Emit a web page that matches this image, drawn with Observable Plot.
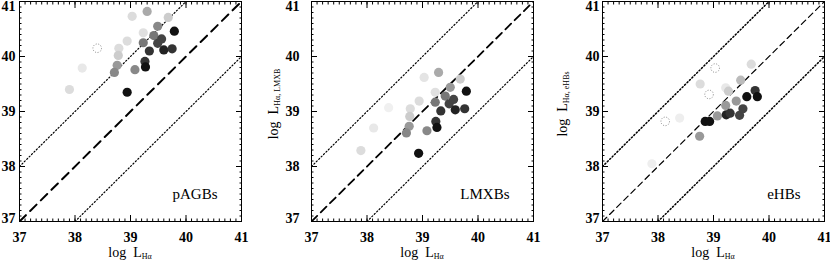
<!DOCTYPE html>
<html><head><meta charset="utf-8">
<script src="https://cdn.jsdelivr.net/npm/d3@7"></script>
<script src="https://cdn.jsdelivr.net/npm/@observablehq/plot@0.6"></script>
<style>
body{margin:0;background:#fff;}
#chart{position:relative;width:830px;height:263px;overflow:hidden;background:#fff;}
#chart svg{position:absolute;top:0;}
</style></head><body><div id="chart"></div>
<script>
// ---- data ----
const tickValues = [37, 38, 39, 40, 41];
const axisDomain = [37, 41];
const panelNames = ["pAGBs", "LMXBs", "eHBs"];
const yTitleSubs = [null, "Hα, LMXB", "Hα, eHBs"];
const lineOffsets = [-1, 0, 1];

const pagbX = [37.90, 38.13, 38.40, 38.79, 38.78, 38.76, 38.71, 38.94, 39.03, 39.30, 38.94, 39.08, 39.23, 39.23, 39.26, 39.27, 39.34, 39.42, 39.49, 39.49, 39.56, 39.60, 39.68, 39.75, 39.79];
const pagbY = [39.40, 39.79, 40.15, 40.15, 40.02, 39.84, 39.71, 40.28, 40.73, 40.82, 39.35, 39.76, 40.43, 40.25, 39.91, 39.81, 40.10, 40.38, 40.55, 40.24, 40.32, 40.12, 40.71, 40.14, 40.46];
const pagbGray = ["#dcdcdc", "#e8e8e8", "#fff", "#dcdcdc", "#cccccc", "#999999", "#888888", "#dcdcdc", "#dcdcdc", "#aaaaaa", "#111111", "#888888", "#e0e0e0", "#777777", "#333333", "#111111", "#333333", "#777777", "#888888", "#444444", "#444444", "#222222", "#cccccc", "#333333", "#111111"];

const lmxbX = [37.89, 38.12, 38.39, 38.78, 38.77, 38.76, 38.71, 38.94, 39.03, 39.29, 38.93, 39.08, 39.23, 39.23, 39.24, 39.26, 39.33, 39.41, 39.50, 39.48, 39.56, 39.59, 39.68, 39.76, 39.79];
const lmxbY = [38.29, 38.70, 39.07, 39.05, 38.91, 38.73, 38.61, 39.19, 39.62, 39.71, 38.24, 38.65, 39.35, 39.17, 38.82, 38.71, 39.01, 39.28, 39.44, 39.14, 39.22, 39.03, 39.59, 39.05, 39.37];
const lmxbGray = ["#dcdcdc", "#e8e8e8", "#f0f0f0", "#dcdcdc", "#cccccc", "#999999", "#888888", "#dcdcdc", "#e4e4e4", "#aaaaaa", "#111111", "#888888", "#e0e0e0", "#777777", "#333333", "#111111", "#333333", "#777777", "#999999", "#444444", "#444444", "#222222", "#cccccc", "#333333", "#111111"];

const ehbX = [37.89, 38.13, 38.39, 38.76, 38.75, 38.92, 39.03, 38.85, 38.93, 39.07, 39.22, 39.27, 39.22, 39.23, 39.30, 39.41, 39.49, 39.47, 39.53, 39.60, 39.68, 39.75, 39.79];
const ehbY = [38.05, 38.82, 38.88, 39.50, 38.55, 39.31, 39.79, 38.82, 38.82, 38.92, 39.43, 39.37, 39.11, 38.94, 38.97, 39.19, 39.57, 38.93, 39.05, 39.27, 39.86, 39.38, 39.27];
const ehbGray = ["#eeeeee", "#fff", "#eeeeee", "#dcdcdc", "#999999", "#fff", "#fff", "#111111", "#111111", "#999999", "#e8e8e8", "#cccccc", "#999999", "#222222", "#333333", "#999999", "#bbbbbb", "#444444", "#444444", "#111111", "#dcdcdc", "#333333", "#111111"];

const panels = [
  {x: pagbX, y: pagbY, g: pagbGray},
  {x: lmxbX, y: lmxbY, g: lmxbGray},
  {x: ehbX, y: ehbY, g: ehbGray}
];

// ---- layout / style ----
const frameLeft = [19, 311, 602];
const mL = 45, mR = 6, frameW = 222;
const yPad = [4, 12, 3];
const dashW = [2, 1.8, 1.2];
const dashA = ["9,6", "8,5", "6,4"];
const dotW = [1.2, 1.2, 1.5];
const yTitleX = [0, 12, 10];
const serif = "'Liberation Serif', 'DejaVu Serif', serif";
const minorTicks = d3.range(370, 411).map(v => v / 10);
const fmt = d => String(d);

const chart = document.getElementById("chart");

panels.forEach((p, k) => {
  const idx = d3.range(p.x.length);
  const solid = idx.filter(i => p.g[i] !== "#fff");
  const hollow = idx.filter(i => p.g[i] === "#fff");
  const lines = lineOffsets.map(o => axisDomain.map(v => ({x: v, y: v + o, o})));
  const tickStyle = {stroke: "black", strokeWidth: 1, tickFormat: () => "", label: null};
  const labelStyle = {tickSize: 0, tickFormat: fmt, label: null, fontSize: 14, fontFamily: serif, fontWeight: "bold", fill: "black"};
  const yMin = axisDomain[0], yMax = axisDomain[1];
  const plot = Plot.plot({
    width: mL + frameW + mR,
    height: 263,
    marginTop: 1, marginBottom: 42, marginLeft: mL, marginRight: mR,
    style: {background: "transparent", overflow: "visible"},
    x: {domain: axisDomain, label: null},
    y: {domain: axisDomain, label: null},
    color: {type: "identity"},
    marks: [
      ...lines.map(l => Plot.line(l, {
        x: "x", y: "y", clip: true, stroke: "black",
        strokeWidth: l[0].o === 0 ? dashW[k] : dotW[k],
        strokeDasharray: l[0].o === 0 ? dashA[k] : "1.2,2.2"
      })),
      Plot.dot(solid, {x: i => p.x[i], y: i => p.y[i], fill: i => p.g[i], r: 4.6}),
      Plot.dot(hollow, {x: i => p.x[i], y: i => p.y[i], fill: "white", stroke: "#888", strokeWidth: 1, strokeDasharray: "1,1.6", r: 4.3}),
      Plot.axisX(minorTicks, {anchor: "bottom", tickSize: -2.5, ...tickStyle}),
      Plot.axisX(minorTicks, {anchor: "top", tickSize: -2.5, ...tickStyle}),
      Plot.axisY(minorTicks, {anchor: "left", tickSize: -2.5, ...tickStyle}),
      Plot.axisY(minorTicks, {anchor: "right", tickSize: -2.5, ...tickStyle}),
      Plot.axisX(tickValues, {anchor: "bottom", tickSize: -6, ...tickStyle}),
      Plot.axisX(tickValues, {anchor: "top", tickSize: -6, ...tickStyle}),
      Plot.axisY(tickValues, {anchor: "left", tickSize: -6, ...tickStyle}),
      Plot.axisY(tickValues, {anchor: "right", tickSize: -6, ...tickStyle}),
      Plot.axisX(tickValues, {anchor: "bottom", tickPadding: 11, ...labelStyle}),
      Plot.axisY(tickValues.filter(v => v > yMin && v < yMax), {anchor: "left", tickPadding: yPad[k], ...labelStyle}),
      Plot.axisY(tickValues.filter(v => v === yMax), {anchor: "left", tickPadding: yPad[k], dy: 5.5, ...labelStyle}),
      Plot.axisY(tickValues.filter(v => v === yMin), {anchor: "left", tickPadding: yPad[k], dy: -3, ...labelStyle}),
      Plot.frame({stroke: "black", strokeWidth: 1}),
      Plot.text([panelNames[k]], {text: d => d, frameAnchor: "bottom-right", textAnchor: "end", dx: -24, dy: -23, fontSize: 15, fontFamily: serif, fill: "black"})
    ]
  });
  plot.style.left = (frameLeft[k] - mL) + "px";
  chart.appendChild(plot);

  const sx = plot.scale("x");
  const svg = d3.select(plot);
  const xt = svg.append("text")
    .attr("x", sx.apply(39)).attr("y", 257)
    .attr("text-anchor", "middle")
    .attr("font-family", serif).attr("font-size", 14).attr("fill", "black");
  xt.append("tspan").text("log  L");
  xt.append("tspan").attr("font-size", 8).attr("dy", 2).text("Hα");

  if (yTitleSubs[k]) {
    const yt = svg.append("text")
      .attr("transform", `translate(${yTitleX[k]},104) rotate(-90)`)
      .attr("text-anchor", "middle")
      .attr("font-family", serif).attr("font-size", 14).attr("fill", "black");
    yt.append("tspan").text("log  L");
    yt.append("tspan").attr("font-size", 8).attr("dy", 2).text(yTitleSubs[k]);
  }
});
</script></body></html>
